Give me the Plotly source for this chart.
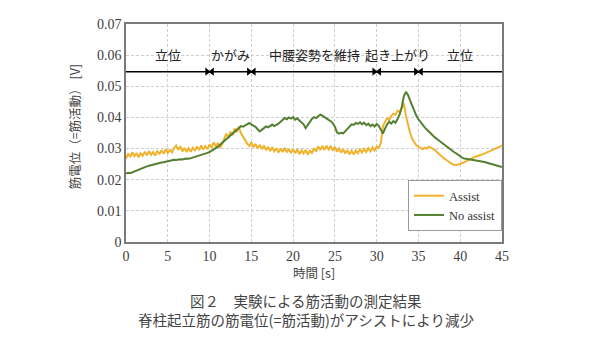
import plotly.graph_objects as go

# Sampling interval of the EMG traces [s]
DT = 0.25

# Erector spinae EMG, with the assist suit [V]
assist = [
    0.0268, 0.0284, 0.0273, 0.0288, 0.0276, 0.0286, 0.0272, 0.0285, 0.0277,
    0.0290, 0.0278, 0.0292, 0.0280, 0.0289, 0.0277, 0.0293, 0.0282,
    0.0295, 0.0283, 0.0298, 0.0286, 0.0296, 0.0288, 0.0302, 0.0310,
    0.0296, 0.0307, 0.0291, 0.0302, 0.0289, 0.0301, 0.0290, 0.0303,
    0.0293, 0.0307, 0.0295, 0.0310, 0.0297, 0.0308, 0.0298, 0.0313,
    0.0303, 0.0320, 0.0307, 0.0318, 0.0302, 0.0314, 0.0330, 0.0348,
    0.0336, 0.0354, 0.0343, 0.0364, 0.0353, 0.0370, 0.0350, 0.0338,
    0.0325, 0.0316, 0.0308, 0.0320, 0.0304, 0.0315, 0.0301, 0.0312,
    0.0298, 0.0310, 0.0295, 0.0306, 0.0292, 0.0304, 0.0291, 0.0301,
    0.0287, 0.0300, 0.0289, 0.0302, 0.0288, 0.0299, 0.0286, 0.0298,
    0.0285, 0.0297, 0.0282, 0.0294, 0.0284, 0.0296, 0.0281, 0.0293,
    0.0286, 0.0301, 0.0291, 0.0307, 0.0295, 0.0308, 0.0296, 0.0309,
    0.0297, 0.0307, 0.0294, 0.0305, 0.0290, 0.0300, 0.0287, 0.0298,
    0.0284, 0.0295, 0.0282, 0.0293, 0.0281, 0.0294, 0.0285, 0.0297,
    0.0287, 0.0299, 0.0289, 0.0301, 0.0291, 0.0304, 0.0294, 0.0307,
    0.0302, 0.0318, 0.0372, 0.0385, 0.0398, 0.0392, 0.0405, 0.0412,
    0.0408, 0.0422, 0.0418, 0.0432, 0.0445, 0.0405, 0.0375, 0.0350,
    0.0332, 0.0320, 0.0310, 0.0306, 0.0302, 0.0298, 0.0303, 0.0300,
    0.0306, 0.0302, 0.0298, 0.0295, 0.0288, 0.0281, 0.0275, 0.0270,
    0.0265, 0.0260, 0.0255, 0.0251, 0.0248, 0.0247, 0.0249, 0.0251,
    0.0252, 0.0256, 0.0260, 0.0264, 0.0267, 0.0270, 0.0273, 0.0276,
    0.0278, 0.0280, 0.0282, 0.0285, 0.0287, 0.0289, 0.0292, 0.0295,
    0.0298, 0.0302, 0.0306, 0.0310,
]

# Erector spinae EMG, without the assist suit [V]
no_assist = [
    0.0220, 0.0222, 0.0221, 0.0224, 0.0226, 0.0228, 0.0231, 0.0234, 0.0237,
    0.0240, 0.0243, 0.0245, 0.0247, 0.0249, 0.0250, 0.0252, 0.0253,
    0.0255, 0.0256, 0.0258, 0.0259, 0.0261, 0.0262, 0.0264, 0.0263,
    0.0265, 0.0266, 0.0265, 0.0267, 0.0268, 0.0267, 0.0269, 0.0271,
    0.0272, 0.0274, 0.0276, 0.0278, 0.0281, 0.0283, 0.0286, 0.0289,
    0.0293, 0.0297, 0.0302, 0.0306, 0.0312, 0.0318, 0.0325, 0.0333,
    0.0338, 0.0345, 0.0351, 0.0357, 0.0362, 0.0367, 0.0372, 0.0370,
    0.0375, 0.0379, 0.0382, 0.0378, 0.0374, 0.0370, 0.0362, 0.0355,
    0.0360, 0.0366, 0.0371, 0.0368, 0.0373, 0.0377, 0.0372, 0.0375,
    0.0380, 0.0386, 0.0392, 0.0398, 0.0394, 0.0400, 0.0396, 0.0401,
    0.0393, 0.0397, 0.0390, 0.0385, 0.0378, 0.0366, 0.0375, 0.0388,
    0.0395, 0.0401, 0.0398, 0.0404, 0.0409, 0.0406, 0.0401, 0.0395,
    0.0392, 0.0388, 0.0381, 0.0370, 0.0352, 0.0348, 0.0351, 0.0349,
    0.0356, 0.0364, 0.0372, 0.0378, 0.0376, 0.0382, 0.0379, 0.0384,
    0.0378, 0.0383, 0.0375, 0.0380, 0.0372, 0.0377, 0.0371, 0.0379,
    0.0373, 0.0362, 0.0348, 0.0364, 0.0378, 0.0386, 0.0380, 0.0388,
    0.0383, 0.0395, 0.0410, 0.0432, 0.0468, 0.0482, 0.0472, 0.0455,
    0.0437, 0.0420, 0.0405, 0.0394, 0.0384, 0.0376, 0.0368, 0.0361,
    0.0354, 0.0347, 0.0341, 0.0335, 0.0330, 0.0325, 0.0319, 0.0313,
    0.0307, 0.0302, 0.0298, 0.0293, 0.0289, 0.0285, 0.0280, 0.0274,
    0.0270, 0.0268, 0.0267, 0.0266, 0.0265, 0.0264, 0.0262, 0.0263,
    0.0261, 0.0259, 0.0258, 0.0256, 0.0254, 0.0251, 0.0249, 0.0247,
    0.0245, 0.0243, 0.0242, 0.0241,
]

# Motion phases and their boundaries [s]
phase_names = ["立位", "かがみ", "中腰姿勢を維持", "起き上がり", "立位"]
phase_bounds = [0, 10, 15, 30, 35, 45]
phase_line_level = 0.0547
phase_label_level = 0.0603

x_ticks = [0, 5, 10, 15, 20, 25, 30, 35, 40, 45]
y_ticks = [0, 0.01, 0.02, 0.03, 0.04, 0.05, 0.06, 0.07]

time_assist = [i * DT for i in range(len(assist))]
time_no_assist = [i * DT for i in range(len(no_assist))]

SERIF = "Liberation Serif"
CJK = "Noto Sans CJK JP"
ORANGE = "#f0b32e"
GREEN = "#52802f"

fig = go.Figure()
fig.add_trace(go.Scatter(x=time_assist, y=assist, mode="lines", name="Assist",
                         line=dict(color=ORANGE, width=2)))
fig.add_trace(go.Scatter(x=time_no_assist, y=no_assist, mode="lines", name="No assist",
                         line=dict(color=GREEN, width=2)))

# Phase line with inward-pointing arrowheads at each boundary
fig.add_trace(go.Scatter(x=[phase_bounds[0], phase_bounds[-1]],
                         y=[phase_line_level, phase_line_level],
                         mode="lines", line=dict(color="black", width=1.5),
                         showlegend=False, hoverinfo="skip"))
inner = phase_bounds[1:-1]
fig.add_trace(go.Scatter(x=[b - 0.3 for b in inner], y=[phase_line_level] * len(inner),
                         mode="markers", marker=dict(symbol="triangle-right", size=7, color="black"),
                         showlegend=False, hoverinfo="skip"))
fig.add_trace(go.Scatter(x=[b + 0.3 for b in inner], y=[phase_line_level] * len(inner),
                         mode="markers", marker=dict(symbol="triangle-left", size=7, color="black"),
                         showlegend=False, hoverinfo="skip"))

for name, a, b in zip(phase_names, phase_bounds[:-1], phase_bounds[1:]):
    fig.add_annotation(x=(a + b) / 2, y=phase_label_level, text=name, showarrow=False,
                       xref="x", yref="y", xanchor="center", yanchor="middle",
                       font=dict(family=CJK, size=13, color="#222"))

# Axis titles
fig.add_annotation(x=-0.136, y=0.53, xref="paper", yref="paper", text="筋電位（=筋活動） [V]",
                   textangle=-90, showarrow=False, xanchor="center", yanchor="middle",
                   font=dict(family=CJK, size=12.5, color="#444"))
fig.add_annotation(x=0.5, y=-0.142, xref="paper", yref="paper", text="時間 [s]",
                   showarrow=False, xanchor="center", yanchor="middle",
                   font=dict(family=CJK, size=12.5, color="#444"))

# Figure caption
fig.add_annotation(x=0.48, y=-0.267, xref="paper", yref="paper", text="図２　実験による筋活動の測定結果",
                   showarrow=False, xanchor="center", yanchor="middle",
                   font=dict(family=CJK, size=14.5, color="#444"))
fig.add_annotation(x=0.48, y=-0.354, xref="paper", yref="paper",
                   text="脊柱起立筋の筋電位(=筋活動)がアシストにより減少",
                   showarrow=False, xanchor="center", yanchor="middle",
                   font=dict(family=CJK, size=14.5, color="#444"))

axis_common = dict(showline=True, mirror=True, linecolor="#7a7a7a", linewidth=1.5,
                   showgrid=True, gridcolor="#cfcfcf", griddash="3px,2px", gridwidth=1,
                   zeroline=False, ticks="",
                   tickfont=dict(family=SERIF, size=14, color="#404040"))

fig.update_xaxes(range=[0, 45], tickvals=x_ticks, ticktext=[str(v) for v in x_ticks], **axis_common)
fig.update_yaxes(range=[0, 0.07], tickvals=y_ticks,
                 ticktext=["0"] + [f"{v:.2f}" for v in y_ticks[1:]], **axis_common)

fig.update_layout(
    width=600, height=337,
    margin=dict(l=126, r=98, t=24, b=95),
    paper_bgcolor="white", plot_bgcolor="white",
    showlegend=True,
    legend=dict(x=0.75, y=0.284, xanchor="left", yanchor="top",
                bgcolor="white", bordercolor="#9a9a9a", borderwidth=1,
                font=dict(family=SERIF, size=12.5, color="#333"),
                itemwidth=30, tracegroupgap=0),
)

fig.write_html("out.html")
